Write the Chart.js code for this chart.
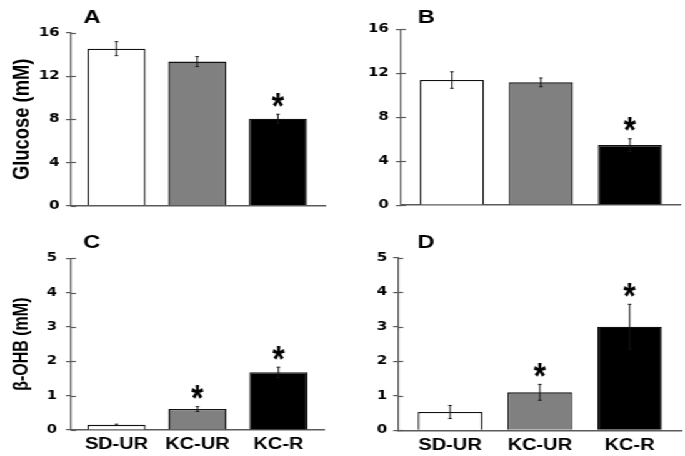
<!DOCTYPE html>
<html><head><meta charset="utf-8">
<script src="https://cdn.jsdelivr.net/npm/chart.js@4/dist/chart.umd.min.js"></script>
<style>
html,body{margin:0;padding:0;background:#fff;overflow:hidden;width:685px;height:456px}
#wrap{position:absolute;left:0;top:0;width:548px;height:456px;transform:scaleX(1.25);transform-origin:0 0}
.p{position:absolute}
</style></head><body>
<div id="wrap">
  <div class="p" style="left:0px;top:0px;width:272px;height:218px"><canvas id="cA"></canvas></div>
  <div class="p" style="left:272px;top:0px;width:276px;height:218px"><canvas id="cB"></canvas></div>
  <div class="p" style="left:0px;top:218px;width:272px;height:238px"><canvas id="cC"></canvas></div>
  <div class="p" style="left:272px;top:218px;width:276px;height:238px"><canvas id="cD"></canvas></div>
</div>
<script>
// ---- data ----
const categories = ['SD-UR', 'KC-UR', 'KC-R'];
const glucoseTicks = [0, 4, 8, 12, 16];
const bohbTicks = [0, 1, 2, 3, 4, 5];
const glucoseA = [14.55, 13.35, 8.05];
const glucoseAErr = [0.65, 0.46, 0.42];
const glucoseB = [11.38, 11.17, 5.46];
const glucoseBErr = [0.75, 0.40, 0.58];
const bohbC = [0.15, 0.61, 1.68];
const bohbCErr = [0.02, 0.07, 0.15];
const bohbD = [0.53, 1.10, 3.00];
const bohbDErr = [0.19, 0.23, 0.65];
const sigA = [false, false, true];
const sigB = [false, false, true];
const sigC = [false, true, true];
const sigD = [false, true, true];
const panelLetters = ['A', 'B', 'C', 'D'];
const yTitles = ['Glucose (mM)', 'β-OHB (mM)'];

// ---- styles ----
const fills = ['#ffffff', '#808080', '#000000'];
const axisColor = '#5a5a5a';

const extrasPlugin = {
  id: 'extras',
  afterDatasetsDraw(chart, args, o) {
    const {ctx, chartArea} = chart;
    const y = chart.scales.y;
    ctx.save();
    // inner half of tick marks
    ctx.strokeStyle = axisColor; ctx.lineWidth = 1.2;
    o.ticks.forEach(v => {
      const py = Math.round(y.getPixelForValue(v)) + 0.5;
      ctx.beginPath(); ctx.moveTo(chartArea.left, py); ctx.lineTo(chartArea.left + 4, py); ctx.stroke();
    });
    // error bars + significance
    const meta = chart.getDatasetMeta(0);
    const ds = chart.data.datasets[0].data;
    meta.data.forEach((bar, i) => {
      const v = ds[i].y, e = o.errors[i];
      const top = y.getPixelForValue(v + e), bot = y.getPixelForValue(v - e);
      ctx.strokeStyle = '#151515'; ctx.lineWidth = 1;
      ctx.beginPath();
      ctx.moveTo(bar.x, top); ctx.lineTo(bar.x, bot);
      ctx.moveTo(bar.x - 1.4, top); ctx.lineTo(bar.x + 1.4, top);
      ctx.moveTo(bar.x - 1.4, bot); ctx.lineTo(bar.x + 1.4, bot);
      ctx.stroke();
      if (o.sig[i]) {
        ctx.save();
        ctx.font = 'bold 36px "Liberation Sans"';
        ctx.fillStyle = '#000';
        ctx.textAlign = 'center'; ctx.textBaseline = 'alphabetic';
        const m = ctx.measureText('*');
        const cy = top - 14.5;
        ctx.translate(bar.x, cy);
        ctx.scale(0.7, 1);
        ctx.fillText('*', 0, (m.actualBoundingBoxAscent - m.actualBoundingBoxDescent) / 2);
        ctx.restore();
      }
    });
    // panel letter
    ctx.font = 'bold 19px "Liberation Sans"';
    ctx.fillStyle = '#000';
    ctx.textAlign = 'left'; ctx.textBaseline = 'alphabetic';
    ctx.fillText(o.letter, chartArea.left + o.letterDx, chartArea.top + o.letterDy);
    ctx.restore();
  }
};

function panel(id, c) {
  return new Chart(document.getElementById(id), {
    type: 'bar',
    data: {
      datasets: [{
        data: c.values.map((v, i) => ({x: i, y: v})),
        backgroundColor: fills,
        borderColor: '#111',
        borderWidth: 1.3,
        borderSkipped: 'bottom',
        barPercentage: 0.72,
        categoryPercentage: 1
      }]
    },
    options: {
      responsive: true, maintainAspectRatio: false, animation: false, events: [],
      layout: {padding: {top: c.padTop, right: c.padRight, left: 0, bottom: 0}},
      plugins: {
        legend: {display: false}, tooltip: {enabled: false},
        extras: {errors: c.errors, sig: c.sig, ticks: c.ticks, letter: c.letter, letterDx: c.letterDx, letterDy: c.letterDy}
      },
      scales: {
        x: {
          type: 'linear', min: c.xMin, max: c.xMax, offset: false,
          afterBuildTicks: s => { s.ticks = categories.map((_, i) => ({value: i})); },
          afterFit: s => { s.height = c.xHeight; },
          grid: {display: false, drawTicks: false, offset: false},
          border: {display: true, color: axisColor, width: 1.5},
          ticks: {display: c.showX, padding: 5.4, maxRotation: 0, autoSkip: false, color: '#000',
                  font: {family: 'Liberation Sans', weight: 'bold', size: 16},
                  callback: v => categories[v]}
        },
        y: {
          min: 0, max: c.ticks[c.ticks.length - 1],
          afterBuildTicks: s => { s.ticks = c.ticks.map(v => ({value: v})); },
          afterFit: s => { s.width = c.yWidth; },
          grid: {display: true, drawOnChartArea: false, drawTicks: true, tickLength: 4, color: axisColor, lineWidth: 1.2},
          border: {display: true, color: axisColor, width: 1.2},
          ticks: {padding: c.tickPad, color: '#000', font: {family: 'DejaVu Sans', weight: 'bold', size: 12}},
          title: {display: !!c.title, text: c.title || '', color: '#000',
                  font: {family: 'Liberation Sans', weight: 'bold', size: c.titleSize || 16},
                  padding: {top: c.titlePad || 0, bottom: 0}}
        }
      }
    },
    plugins: [extrasPlugin]
  });
}

panel('cA', {values: glucoseA, errors: glucoseAErr, sig: sigA, ticks: glucoseTicks, letter: panelLetters[0],
  title: yTitles[0], titleSize: 18.4, titlePad: 7.2, showX: false,
  yWidth: 56.8, padTop: 33, padRight: 12, xHeight: 12, xMin: -0.563, xMax: 2.582, tickPad: 5.2, letterDx: 9.9, letterDy: -10.3});
panel('cB', {values: glucoseB, errors: glucoseBErr, sig: sigB, ticks: glucoseTicks, letter: panelLetters[1],
  showX: false,
  yWidth: 48.8, padTop: 29.3, padRight: 4, xHeight: 12, xMin: -0.573, xMax: 2.562, tickPad: 5.7, letterDx: 13.4, letterDy: -6.6});
panel('cC', {values: bohbC, errors: bohbCErr, sig: sigC, ticks: bohbTicks, letter: panelLetters[2],
  title: yTitles[1], titleSize: 16, titlePad: 8.4, showX: true,
  yWidth: 56.8, padTop: 40.3, padRight: 12.8, xHeight: 26, xMin: -0.562, xMax: 2.562, tickPad: 7.2, letterDx: 9.8, letterDy: -10});
panel('cD', {values: bohbD, errors: bohbDErr, sig: sigD, ticks: bohbTicks, letter: panelLetters[3],
  showX: true,
  yWidth: 46.6, padTop: 39.7, padRight: 2.6, xHeight: 25.7, xMin: -0.578, xMax: 2.58, tickPad: 4.8, letterDx: 15.3, letterDy: -9.4});
</script>
</body></html>
